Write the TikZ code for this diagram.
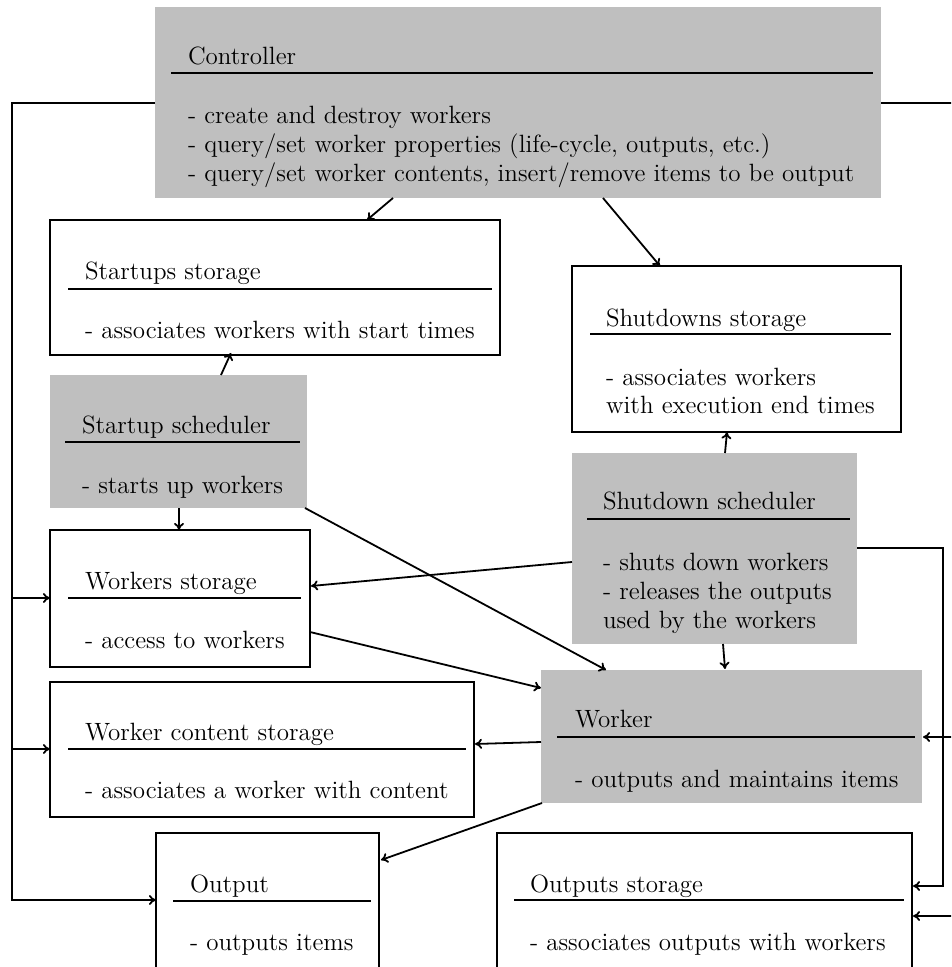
\documentclass[tikz,border=0pt]{standalone}
\usetikzlibrary{arrows.meta,calc}
\begin{document}
\begin{tikzpicture}[x=0.5pt,y=-0.5pt,
  font=\fontsize{12.5}{14}\selectfont,
  box/.style={draw=black, line width=1pt, fill=white, anchor=north west, inner sep=0pt, outer sep=0pt},
  gbox/.style={fill=black!25, anchor=north west, inner sep=0pt, outer sep=0pt},
  txt/.style={anchor=base west, inner sep=0pt, outer sep=0pt},
  ul/.style={line width=1pt},
  conn/.style={line width=0.9pt, -{To[length=3.5pt,width=5pt]}},
  wire/.style={line width=0.9pt}]
\useasboundingbox (0,0) rectangle (951,967);
\clip (0,0) rectangle (951,967);

% boxes
\node[gbox, minimum width=363pt, minimum height=95.5pt] (ctrl) at (155,7) {};
\node[box, minimum width=225pt, minimum height=67.5pt] (sus) at (50,220) {};
\node[box, minimum width=164.5pt, minimum height=83pt] (sds) at (572,266) {};
\node[gbox, minimum width=128.5pt, minimum height=66.5pt] (ssch) at (50,375) {};
\node[box, minimum width=130pt, minimum height=68.5pt] (ws) at (50,530) {};
\node[gbox, minimum width=142.5pt, minimum height=95.5pt] (dsch) at (572,453) {};
\node[gbox, minimum width=190.5pt, minimum height=66.5pt] (wk) at (541,670) {};
\node[box, minimum width=212pt, minimum height=67.5pt] (wcs) at (50,682) {};
\node[box, minimum width=111.5pt, minimum height=100pt] (out) at (156,833) {};
\node[box, minimum width=207.5pt, minimum height=100pt] (os) at (497,833) {};

% Controller
\node[txt] (ctrlT) at (188,65) {Controller};
\draw[ul] (171,73) -- (873,73);
\node[txt] (ctrlA) at (188,124) {- create and destroy workers};
\node[txt] (ctrlB) at (188,153) {- query/set worker properties (life-cycle, outputs, etc.)};
\node[txt] (ctrlC) at (188,182) {- query/set worker contents, insert/remove items to be output};

% Startups storage
\node[txt] (susT) at (85,280) {Startups storage};
\draw[ul] (68,289) -- (492,289);
\node[txt] (susA) at (85,339) {- associates workers with start times};

% Shutdowns storage
\node[txt] (sdsT) at (606,327) {Shutdowns storage};
\draw[ul] (590,334) -- (891,334);
\node[txt] (sdsA) at (606,386) {- associates workers};
\node[txt] (sdsB) at (606,414) {with execution end times};

% Startup scheduler
\node[txt] (sschT) at (82,433) {Startup scheduler};
\draw[ul] (65,442) -- (300,442);
\node[txt] (sschA) at (82,493) {- starts up workers};

% Workers storage
\node[txt] (wsT) at (85,589) {Workers storage};
\draw[ul, line width=1.4pt] (68,598) -- (301,598);
\node[txt] (wsA) at (85,648) {- access to workers};

% Shutdown scheduler
\node[txt] (dschT) at (603,509) {Shutdown scheduler};
\draw[ul] (587,519) -- (850,519);
\node[txt] (dschA) at (603,570) {- shuts down workers};
\node[txt] (dschB) at (603,599) {- releases the outputs};
\node[txt] (dschC) at (603,628) {used by the workers};

% Worker
\node[txt] (wkT) at (575,727) {Worker};
\draw[ul] (557,737) -- (915,737);
\node[txt] (wkA) at (575,787) {- outputs and maintains items};

% Worker content storage
\node[txt] (wcsT) at (85,740) {Worker content storage};
\draw[ul] (68,749) -- (466,749);
\node[txt] (wcsA) at (85,798) {- associates a worker with content};

% Output
\node[txt] (outT) at (190,892) {Output};
\draw[ul] (173,901) -- (371,901);
\node[txt] (outA) at (190,950) {- outputs items};

% Outputs storage
\node[txt] (osT) at (530,892) {Outputs storage};
\draw[ul] (514,900) -- (904,900);
\node[txt] (osA) at (530,950) {- associates outputs with workers};

% connectors
\draw[conn] ($(ctrl.south west)+(238,0)$) -- ($(sus.north west)+(317,0)$);
\draw[conn] ($(ctrl.south west)+(448,0)$) -- ($(sds.north west)+(88,0)$);
\draw[conn] ($(ssch.north west)+(171,0)$) -- ($(sus.south west)+(181,-2)$);
\draw[conn] ($(ssch.south west)+(129,0)$) -- ($(ws.north west)+(129,0)$);
\draw[conn] ($(ssch.south east)+(-2,0)$) -- ($(wk.north west)+(65,0)$);
\draw[conn] ($(dsch.north west)+(0,109)$) -- ($(ws.north east)+(1,56)$);
\draw[conn] ($(ws.north east)+(0,102)$) -- ($(wk.north west)+(0,18)$);
\draw[conn] ($(dsch.north west)+(153,0)$) -- ($(sds.south west)+(155,0)$);
\draw[conn] ($(dsch.south west)+(151,0)$) -- ($(wk.north west)+(184,-1)$);
\draw[conn] ($(dsch.north east)+(0,95)$) -| ($(os.north east)+(31,53)$) -- ($(os.north east)+(1,53)$);
\draw[conn] ($(wk.north west)+(0,72)$) -- ($(wcs.north east)+(1,62)$);
\draw[conn] ($(wk.south west)+(1,0)$) -- ($(out.north east)+(2,27)$);

% left loop from controller
\draw[conn] ($(ctrl.north west)+(0,96)$) -| ($(out.north west)+(-144,67)$) -- ($(out.north west)+(0,67)$);
\draw[conn] ($(ws.north west)+(-38,68)$) -- ($(ws.north west)+(0,68)$);
\draw[conn] ($(wcs.north west)+(-38,67)$) -- ($(wcs.north west)+(0,67)$);

% right loop from controller
\draw[wire] ($(ctrl.north east)+(0,96)$) -| ($(os.north east)+(42,83)$);
\draw[conn] ($(wk.north east)+(31,67)$) -- ($(wk.north east)+(1,67)$);
\draw[conn] ($(os.north east)+(42,83)$) -- ($(os.north east)+(1,83)$);
\end{tikzpicture}
\end{document}
